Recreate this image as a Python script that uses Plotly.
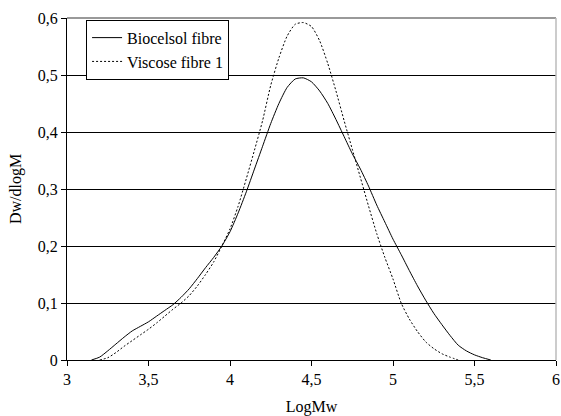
import plotly.graph_objects as go

# Biocelsol fibre (solid)
bio_x = [3.15, 3.2, 3.25, 3.3, 3.35, 3.4, 3.45, 3.5, 3.55, 3.6, 3.65, 3.7, 3.75, 3.8, 3.85,
         3.9, 3.95, 4.0, 4.05, 4.1, 4.15, 4.2, 4.25, 4.3, 4.35, 4.4, 4.45, 4.5, 4.55, 4.6,
         4.65, 4.7, 4.75, 4.8, 4.85, 4.9, 4.95, 5.0, 5.05, 5.1, 5.15, 5.2, 5.25, 5.3, 5.35,
         5.4, 5.45, 5.5, 5.55, 5.6]
bio_y = [0.0, 0.005, 0.016, 0.028, 0.040, 0.051, 0.059, 0.067, 0.077, 0.087, 0.097, 0.110,
         0.125, 0.143, 0.162, 0.180, 0.200, 0.225, 0.258, 0.295, 0.335, 0.375, 0.415, 0.450,
         0.478, 0.493, 0.495, 0.488, 0.472, 0.450, 0.422, 0.392, 0.362, 0.335, 0.305, 0.272,
         0.242, 0.212, 0.185, 0.157, 0.130, 0.105, 0.082, 0.062, 0.043, 0.026, 0.016, 0.009,
         0.004, 0.0]

# Viscose fibre 1 (dotted)
vis_x = [3.2, 3.25, 3.3, 3.35, 3.4, 3.45, 3.5, 3.55, 3.6, 3.65, 3.7, 3.75, 3.8, 3.85, 3.9,
         3.95, 4.0, 4.05, 4.1, 4.15, 4.2, 4.25, 4.3, 4.35, 4.4, 4.45, 4.5, 4.55, 4.6, 4.65,
         4.7, 4.75, 4.8, 4.85, 4.9, 4.95, 5.0, 5.05, 5.1, 5.15, 5.2, 5.25, 5.3, 5.35, 5.4]
vis_y = [0.0, 0.004, 0.013, 0.024, 0.034, 0.044, 0.054, 0.065, 0.077, 0.089, 0.100, 0.113,
         0.130, 0.150, 0.172, 0.200, 0.230, 0.270, 0.318, 0.368, 0.420, 0.482, 0.530, 0.568,
         0.589, 0.592, 0.585, 0.560, 0.520, 0.472, 0.420, 0.370, 0.320, 0.270, 0.222, 0.180,
         0.142, 0.100, 0.072, 0.050, 0.032, 0.020, 0.011, 0.005, 0.0]

x_ticks = [3, 3.5, 4, 4.5, 5, 5.5, 6]
y_ticks = [0, 0.1, 0.2, 0.3, 0.4, 0.5, 0.6]

FONT = "Liberation Serif"

fig = go.Figure()
fig.add_trace(go.Scatter(x=bio_x, y=bio_y, mode="lines", name="Biocelsol fibre",
                         line=dict(color="black", width=1, shape="spline", smoothing=0.6)))
fig.add_trace(go.Scatter(x=vis_x, y=vis_y, mode="lines", name="Viscose fibre 1",
                         line=dict(color="black", width=1, dash="2px,2px",
                                   shape="spline", smoothing=0.6)))

fig.update_layout(
    width=561, height=416,
    margin=dict(l=67, r=5, t=18, b=56),
    paper_bgcolor="white", plot_bgcolor="white",
    separators=", ",
    font=dict(family=FONT, size=16, color="black"),
    showlegend=True,
    legend=dict(x=0.039, y=0.995, xanchor="left", yanchor="top",
                bgcolor="white", bordercolor="black", borderwidth=1,
                font=dict(family=FONT, size=16), tracegroupgap=0),
    xaxis=dict(range=[3, 6], tickvals=x_ticks, ticks="outside", ticklen=5,
               tickcolor="black", showgrid=False, showline=True, linecolor="black",
               linewidth=1, zeroline=False, automargin=False,
               tickfont=dict(family=FONT, size=16),
               title=dict(text="LogMw", standoff=16, font=dict(family=FONT, size=16))),
    yaxis=dict(range=[0, 0.6], tickvals=y_ticks, ticks="outside", ticklen=5,
               tickcolor="black", showgrid=True, gridcolor="black", gridwidth=1,
               showline=True, linecolor="black", linewidth=1, zeroline=False,
               automargin=False, tickfont=dict(family=FONT, size=16),
               title=dict(text="Dw/dlogM", standoff=12, font=dict(family=FONT, size=16))),
    shapes=[
        dict(type="line", xref="paper", yref="paper", x0=0, x1=1, y0=1, y1=1,
             line=dict(color="#777777", width=1.5), layer="above"),
        dict(type="line", xref="paper", yref="paper", x0=1, x1=1, y0=0, y1=1,
             line=dict(color="#bbbbbb", width=1.5), layer="above"),
    ],
)

fig.write_html("out.html")
